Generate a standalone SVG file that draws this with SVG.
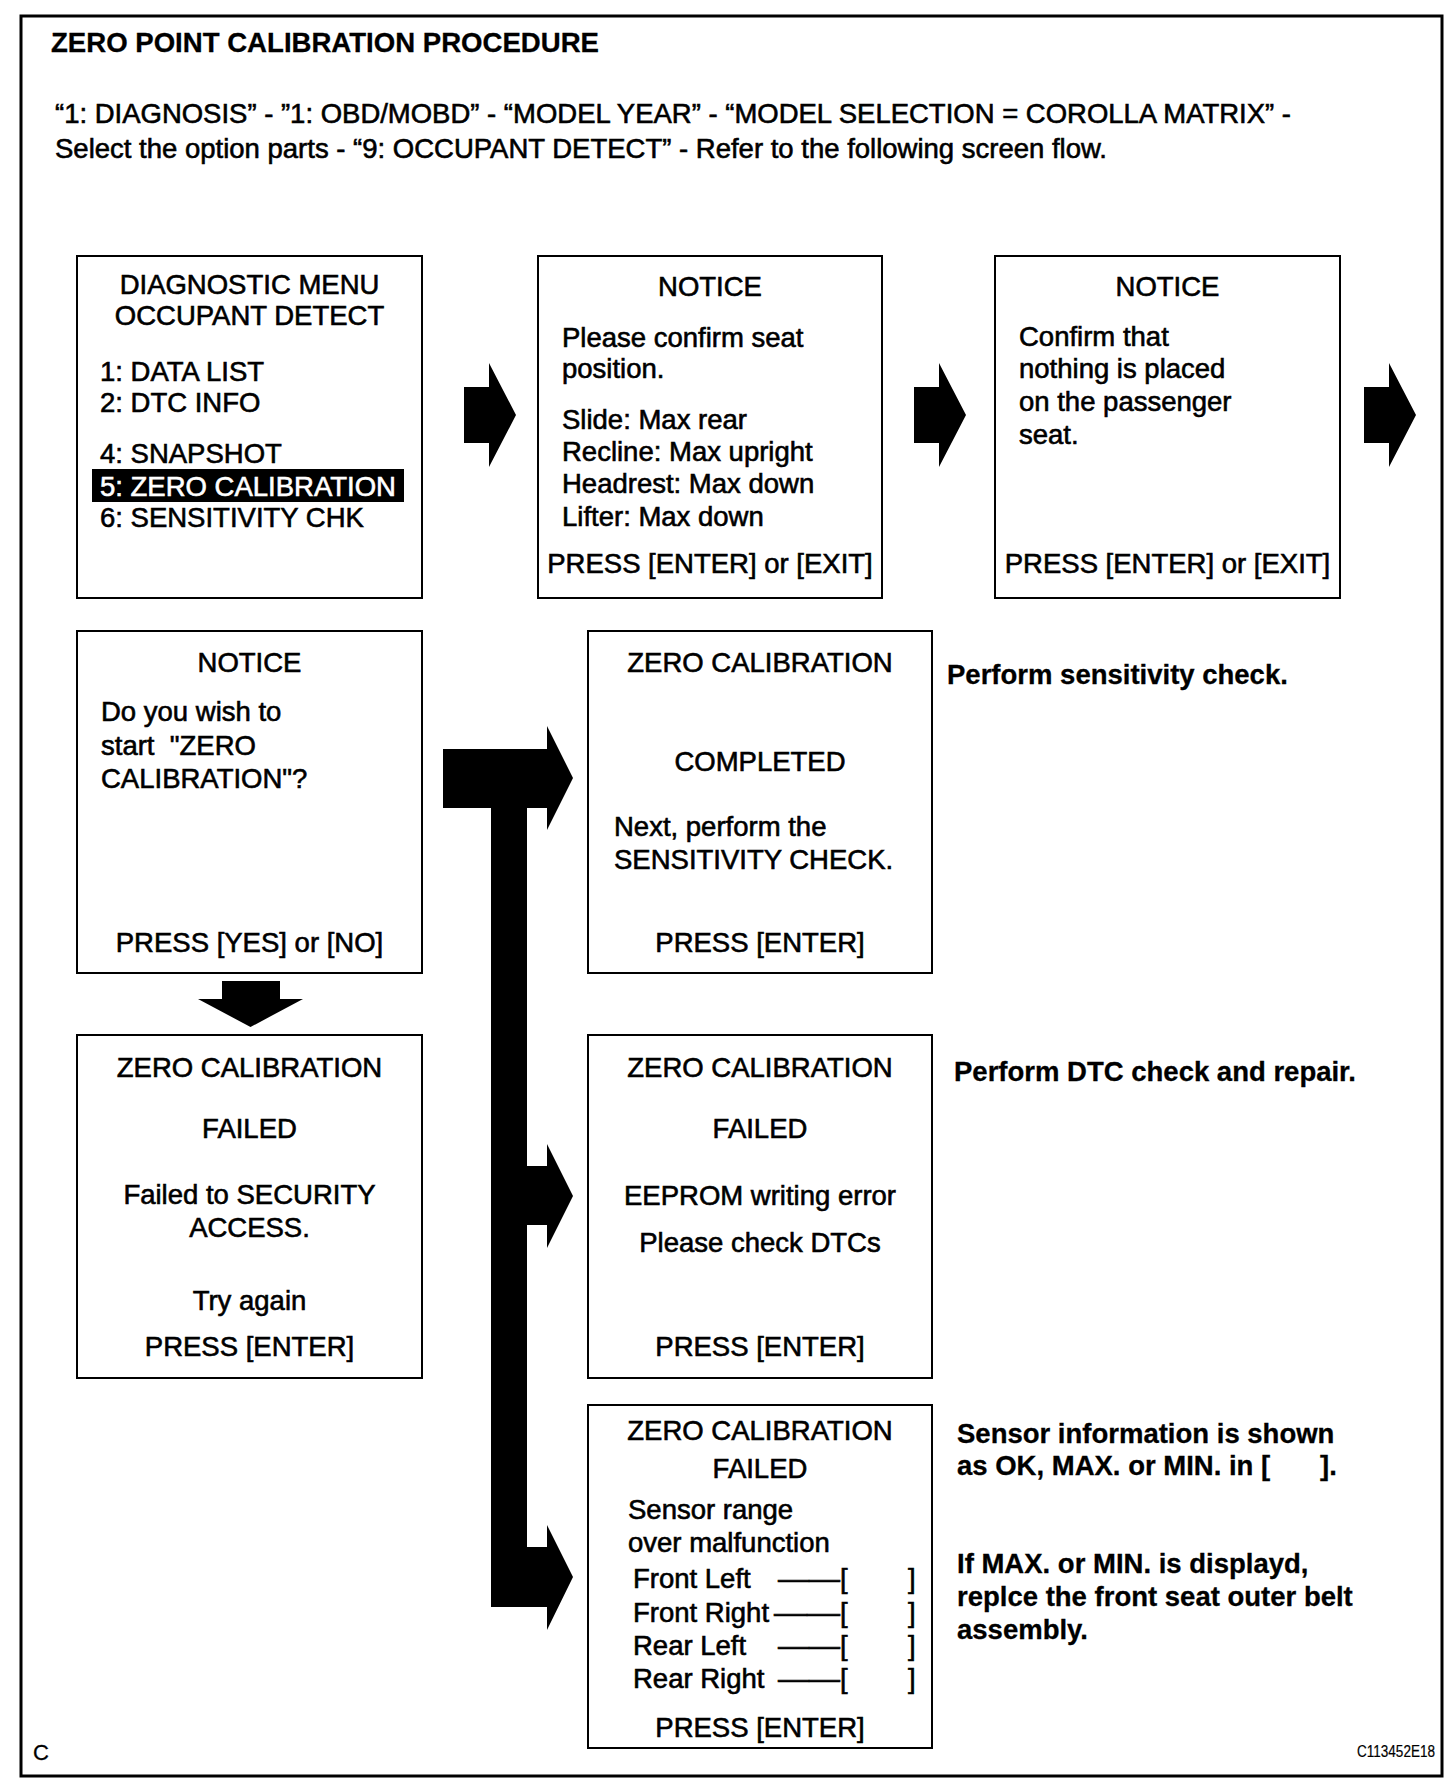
<svg xmlns="http://www.w3.org/2000/svg" width="1456" height="1784" viewBox="0 0 1456 1784">
<style>
text{font-family:"Liberation Sans",Arial,Helvetica,sans-serif;font-size:27.5px;fill:#000;stroke:#000;stroke-width:0.6}
.b{font-weight:bold;stroke-width:0.3}
.c{text-anchor:middle}
.box{fill:#fff;stroke:#000;stroke-width:2}
.arrow{fill:#000;stroke:none}
.w{fill:#fff;stroke:#fff}
</style>
<rect x="0" y="0" width="1456" height="1784" fill="#fff"/>
<rect x="21" y="16" width="1421" height="1760" fill="none" stroke="#000" stroke-width="3"/>
<g id="header">
<text class="b" x="51" y="52" textLength="548" lengthAdjust="spacingAndGlyphs">ZERO POINT CALIBRATION PROCEDURE</text>
<text x="55" y="123" textLength="1236" lengthAdjust="spacingAndGlyphs">“1: DIAGNOSIS” - ”1: OBD/MOBD” - “MODEL YEAR” - “MODEL SELECTION = COROLLA MATRIX” -</text>
<text x="55" y="158" textLength="1052" lengthAdjust="spacingAndGlyphs">Select the option parts - “9: OCCUPANT DETECT” - Refer to the following screen flow.</text>
</g>
<g id="connectors">
<path class="arrow" d="M464,387 H489 V363 L516,415 L489,467 V443 H464 Z"/>
<path class="arrow" d="M914,387 H939 V363 L966,415 L939,467 V443 H914 Z"/>
<path class="arrow" d="M1364,387 H1389 V363 L1416,415 L1389,467 V443 H1364 Z"/>
<path class="arrow" d="M222,981 H280 V999 H303 L250.5,1027 L198,999 H222 Z"/>
<path class="arrow" d="M443,749 H547 V726 L573,778 L547,830 V808 H527 V1166 H547 V1144 L573,1196 L547,1248 V1225 H527 V1547 H547 V1525 L573,1577 L547,1630 V1607 H491 V808 H443 Z"/>
</g>
<g id="n1">
<rect class="box" x="77" y="256" width="345" height="342"/>
<text class="c" x="249.5" y="294">DIAGNOSTIC MENU</text>
<text class="c" x="249.5" y="325">OCCUPANT DETECT</text>
<text x="100" y="381">1: DATA LIST</text>
<text x="100" y="412">2: DTC INFO</text>
<text x="100" y="463">4: SNAPSHOT</text>
<rect x="92" y="469" width="312" height="33" fill="#000"/>
<text class="w" x="100" y="496">5: ZERO CALIBRATION</text>
<text x="100" y="527">6: SENSITIVITY CHK</text>
</g>
<g id="n2">
<rect class="box" x="538" y="256" width="344" height="342"/>
<text class="c" x="710" y="296">NOTICE</text>
<text x="562" y="347">Please confirm seat</text>
<text x="562" y="378">position.</text>
<text x="562" y="429">Slide: Max rear</text>
<text x="562" y="461">Recline: Max upright</text>
<text x="562" y="493">Headrest: Max down</text>
<text x="562" y="526">Lifter: Max down</text>
<text class="c" x="710" y="573">PRESS [ENTER] or [EXIT]</text>
</g>
<g id="n3">
<rect class="box" x="995" y="256" width="345" height="342"/>
<text class="c" x="1167.5" y="296">NOTICE</text>
<text x="1019" y="346">Confirm that</text>
<text x="1019" y="378">nothing is placed</text>
<text x="1019" y="411">on the passenger</text>
<text x="1019" y="444">seat.</text>
<text class="c" x="1167.5" y="573">PRESS [ENTER] or [EXIT]</text>
</g>
<g id="n4">
<rect class="box" x="77" y="631" width="345" height="342"/>
<text class="c" x="249.5" y="672">NOTICE</text>
<text x="101" y="721">Do you wish to</text>
<text x="101" y="755" xml:space="preserve">start  "ZERO</text>
<text x="101" y="788">CALIBRATION"?</text>
<text class="c" x="249.5" y="952">PRESS [YES] or [NO]</text>
</g>
<g id="n5">
<rect class="box" x="588" y="631" width="344" height="342"/>
<text class="c" x="760" y="672">ZERO CALIBRATION</text>
<text class="c" x="760" y="771">COMPLETED</text>
<text x="614" y="836">Next, perform the</text>
<text x="614" y="869">SENSITIVITY CHECK.</text>
<text class="c" x="760" y="952">PRESS [ENTER]</text>
</g>
<g id="n6">
<rect class="box" x="77" y="1035" width="345" height="343"/>
<text class="c" x="249.5" y="1077">ZERO CALIBRATION</text>
<text class="c" x="249.5" y="1138">FAILED</text>
<text class="c" x="249.5" y="1204">Failed to SECURITY</text>
<text class="c" x="249.5" y="1237">ACCESS.</text>
<text class="c" x="249.5" y="1310">Try again</text>
<text class="c" x="249.5" y="1356">PRESS [ENTER]</text>
</g>
<g id="n7">
<rect class="box" x="588" y="1035" width="344" height="343"/>
<text class="c" x="760" y="1077">ZERO CALIBRATION</text>
<text class="c" x="760" y="1138">FAILED</text>
<text class="c" x="760" y="1205">EEPROM writing error</text>
<text class="c" x="760" y="1252">Please check DTCs</text>
<text class="c" x="760" y="1356">PRESS [ENTER]</text>
</g>
<g id="n8">
<rect class="box" x="588" y="1405" width="344" height="343"/>
<text class="c" x="760" y="1440">ZERO CALIBRATION</text>
<text class="c" x="760" y="1478">FAILED</text>
<text x="628" y="1519">Sensor range</text>
<text x="628" y="1552">over malfunction</text>
<text x="633" y="1588">Front Left</text>
<text x="778" y="1588" textLength="62" lengthAdjust="spacingAndGlyphs">——</text>
<text x="840" y="1588">[</text>
<text x="908" y="1588">]</text>
<text x="633" y="1622">Front Right</text>
<text x="774" y="1622" textLength="66" lengthAdjust="spacingAndGlyphs">——</text>
<text x="840" y="1622">[</text>
<text x="908" y="1622">]</text>
<text x="633" y="1655">Rear Left</text>
<text x="778" y="1655" textLength="62" lengthAdjust="spacingAndGlyphs">——</text>
<text x="840" y="1655">[</text>
<text x="908" y="1655">]</text>
<text x="633" y="1688">Rear Right</text>
<text x="778" y="1688" textLength="62" lengthAdjust="spacingAndGlyphs">——</text>
<text x="840" y="1688">[</text>
<text x="908" y="1688">]</text>
<text class="c" x="760" y="1737">PRESS [ENTER]</text>
</g>
<g id="notes">
<text class="b" x="947" y="684">Perform sensitivity check.</text>
<text class="b" x="954" y="1081">Perform DTC check and repair.</text>
<text class="b" x="957" y="1443">Sensor information is shown</text>
<text class="b" x="957" y="1475">as OK, MAX. or MIN. in [</text>
<text class="b" x="1320" y="1475">].</text>
<text class="b" x="957" y="1573">If MAX. or MIN. is displayd,</text>
<text class="b" x="957" y="1606">replce the front seat outer belt</text>
<text class="b" x="957" y="1639">assembly.</text>
</g>
<g id="footer">
<text x="33" y="1760" style="font-size:22px;stroke-width:0.3">C</text>
<text x="1357" y="1757" style="font-size:16px;stroke-width:0.2" textLength="78" lengthAdjust="spacingAndGlyphs">C113452E18</text>
</g>
</svg>
